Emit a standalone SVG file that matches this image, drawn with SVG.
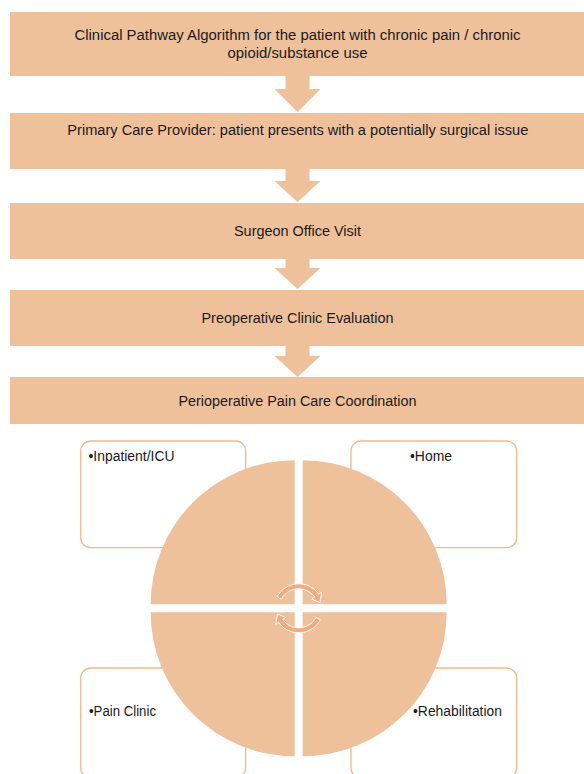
<svg xmlns="http://www.w3.org/2000/svg" width="584" height="774" viewBox="0 0 584 774">
<style>
.box{fill:#EEC19B}
.arr{fill:#EEC19B}
.t{font-family:"Liberation Sans",Arial,sans-serif;font-size:14px;fill:#1a1a1a}
.m{text-anchor:middle}
.card{fill:#ffffff;stroke:#F2B989;stroke-width:1.3}
.pie{fill:#EEC19B}
.cyc{fill:#F5A97C;stroke:#ffffff;stroke-width:1}
</style>
<rect width="584" height="774" fill="#ffffff"/>
<g id="connectors">
<polygon class="arr" points="285.5,74 309.5,74 309.5,89 320.5,89 297.5,112 274.5,89 285.5,89"/>
<polygon class="arr" points="285.5,167 309.5,167 309.5,181 320.5,181 297.5,202 274.5,181 285.5,181"/>
<polygon class="arr" points="285.5,257 309.5,257 309.5,268 320.5,268 297.5,289 274.5,268 285.5,268"/>
<polygon class="arr" points="285.5,344 309.5,344 309.5,356 320.5,356 297.5,377 274.5,356 285.5,356"/>
</g>
<g id="node-title">
<rect class="box" x="10" y="12" width="576" height="64"/>
<text class="t m" x="297.5" y="40" textLength="446" lengthAdjust="spacingAndGlyphs">Clinical Pathway Algorithm for the patient with chronic pain / chronic</text>
<text class="t m" x="297.5" y="58" textLength="140" lengthAdjust="spacingAndGlyphs">opioid/substance use</text>
</g>
<g id="node-pcp">
<rect class="box" x="10" y="113" width="576" height="56"/>
<text class="t m" x="297.8" y="134.5" textLength="461" lengthAdjust="spacingAndGlyphs">Primary Care Provider: patient presents with a potentially surgical issue</text>
</g>
<g id="node-surgeon">
<rect class="box" x="10" y="203" width="576" height="56"/>
<text class="t m" x="297.5" y="236" textLength="127" lengthAdjust="spacingAndGlyphs">Surgeon Office Visit</text>
</g>
<g id="node-preop">
<rect class="box" x="10" y="290" width="576" height="56"/>
<text class="t m" x="297.5" y="323" textLength="192" lengthAdjust="spacingAndGlyphs">Preoperative Clinic Evaluation</text>
</g>
<g id="node-periop">
<rect class="box" x="10" y="377" width="576" height="47"/>
<text class="t m" x="297.5" y="406" textLength="238" lengthAdjust="spacingAndGlyphs">Perioperative Pain Care Coordination</text>
</g>
<g id="node-inpatient">
<rect class="card" x="80.7" y="441" width="165" height="106.7" rx="10"/>
</g>
<g id="node-home">
<rect class="card" x="351" y="441" width="165.7" height="106.7" rx="10"/>
</g>
<g id="node-painclinic">
<rect class="card" x="80.7" y="668" width="165" height="110" rx="10"/>
</g>
<g id="node-rehab">
<rect class="card" x="351" y="668" width="165.7" height="110" rx="10"/>
</g>
<g id="cycle">
<path class="pie" d="M294.7,604.3 L150.7,604.3 A144,144 0 0 1 294.7,460.3 Z"/>
<path class="pie" d="M302.7,604.3 L302.7,460.3 A144,144 0 0 1 446.7,604.3 Z"/>
<path class="pie" d="M302.7,612.3 L446.7,612.3 A144,144 0 0 1 302.7,756.3 Z"/>
<path class="pie" d="M294.7,612.3 L294.7,756.3 A144,144 0 0 1 150.7,612.3 Z"/>
<path class="cyc" d="M277.07,596.81 A24.5,24.5 0 0 1 318.77,594.24 L321.63,592.23 L319.95,602.6 L311.8,599.12 L314.67,597.11 A19.5,19.5 0 0 0 281.48,599.15 Z"/>
<path class="cyc" transform="rotate(180 298.7 608.3)" d="M277.07,596.81 A24.5,24.5 0 0 1 318.77,594.24 L321.63,592.23 L319.95,602.6 L311.8,599.12 L314.67,597.11 A19.5,19.5 0 0 0 281.48,599.15 Z"/>
</g>
<g id="labels">
<text class="t" x="88.5" y="461" textLength="86" lengthAdjust="spacingAndGlyphs">•Inpatient/ICU</text>
<text class="t" x="410" y="461" textLength="42" lengthAdjust="spacingAndGlyphs">•Home</text>
<text class="t" x="89" y="716" textLength="67" lengthAdjust="spacingAndGlyphs">•Pain Clinic</text>
<text class="t" x="413" y="716" textLength="89" lengthAdjust="spacingAndGlyphs">•Rehabilitation</text>
</g>
</svg>
